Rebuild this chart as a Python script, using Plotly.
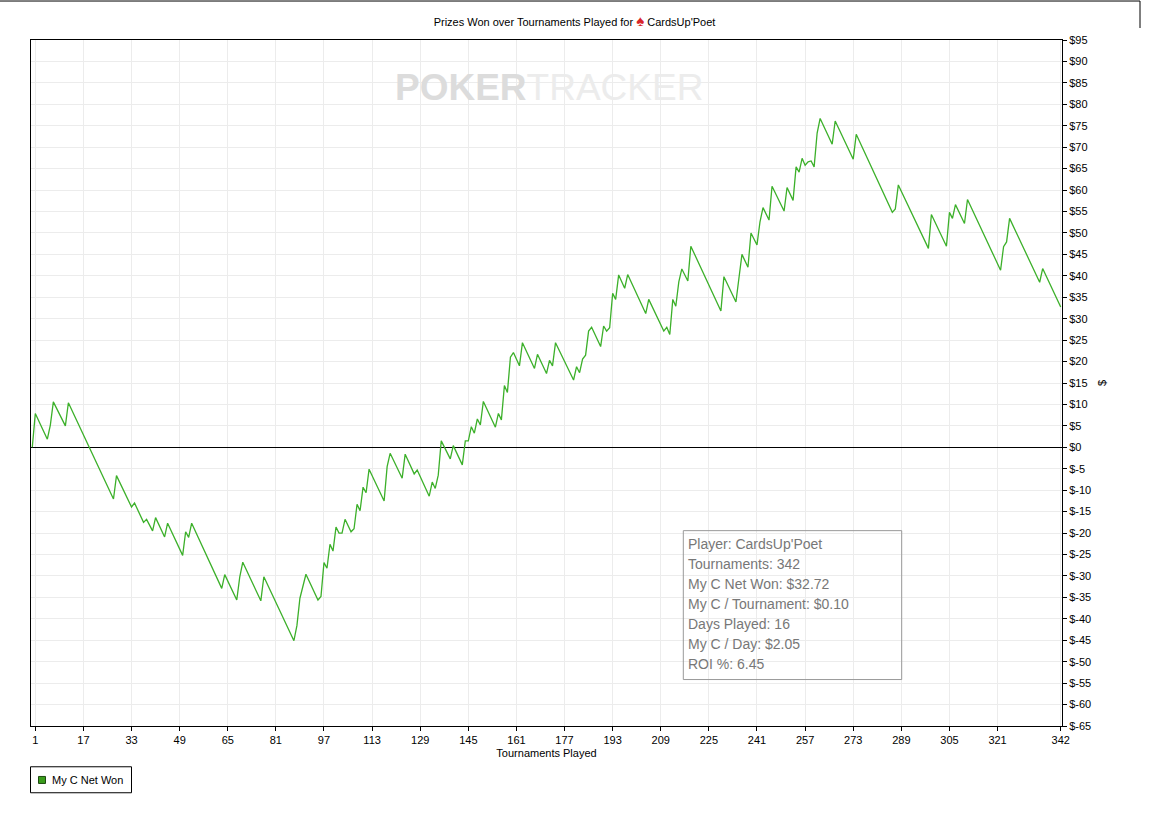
import plotly.graph_objects as go

# cumulative net won ($) at each turning point of the graph
tourney = [0, 1, 5, 6, 7, 11, 12, 27, 28, 33, 34, 37, 38, 40, 41, 44, 45, 50, 51, 52,
           53, 63, 64, 68, 69, 70, 76, 77, 87, 88, 89, 90, 91, 95, 96, 97, 98, 99, 100, 101,
           102, 103, 104, 106, 107, 108, 109, 110, 111, 112, 117, 118, 119, 123, 124, 127, 128, 132, 133, 134,
           135, 136, 139, 140, 143, 144, 145, 146, 147, 148, 149, 150, 154, 155, 156, 157, 158, 159, 160, 162,
           163, 167, 168, 171, 172, 173, 174, 180, 181, 182, 183, 184, 185, 186, 189, 190, 191, 192, 193, 194,
           195, 197, 198, 204, 205, 210, 211, 212, 213, 214, 215, 216, 218, 219, 229, 230, 234, 235, 236, 238,
           239, 241, 242, 243, 245, 246, 250, 251, 253, 254, 255, 256, 257, 258, 259, 260, 261, 262, 266, 267,
           273, 274, 286, 287, 288, 298, 299, 304, 305, 306, 307, 310, 311, 322, 323, 324, 325, 335, 336, 342]
net_won = [0, 7.9, 1.9, 5.2, 10.6, 5.0, 10.4, -12.05, -6.6, -13.9, -13.0, -17.5, -16.8, -19.5, -16.4, -20.9, -17.7, -25.2, -19.7, -21.0,
           -17.7, -32.9, -29.7, -35.6, -30.2, -26.8, -35.8, -30.2, -45.1, -41.6, -35.2, -32.5, -29.6, -35.6, -34.8, -26.9, -28.2, -22.6, -24.2, -18.6,
           -20.0, -20.0, -16.8, -19.7, -19.0, -13.3, -14.8, -9.3, -10.6, -5.1, -12.5, -4.5, -1.4, -7.2, -1.6, -6.2, -5.3, -11.4, -8.1, -9.6,
           -6.5, 1.5, -2.7, 0.4, -4.1, 1.5, 1.5, 4.8, 3.3, 6.6, 5.2, 10.7, 4.7, 7.9, 6.4, 14.4, 12.8, 21.0, 22.1, 19.0,
           24.4, 18.4, 21.7, 17.2, 20.3, 19.0, 24.4, 15.7, 18.8, 17.4, 20.6, 21.5, 27.1, 28.0, 23.5, 28.3, 27.1, 27.9, 35.9, 34.5,
           40.2, 37.1, 40.3, 31.2, 34.5, 27.1, 28.0, 26.3, 34.5, 32.9, 38.6, 41.6, 38.8, 46.9, 31.8, 39.8, 33.9, 39.5, 45.0, 42.0,
           50.0, 47.2, 52.6, 55.9, 53.0, 60.9, 55.1, 60.6, 57.6, 65.4, 64.2, 67.4, 65.8, 66.6, 66.8, 65.4, 73.3, 76.7, 70.7, 76.1,
           67.2, 73.0, 54.8, 55.6, 61.2, 46.4, 54.3, 46.9, 54.8, 53.4, 56.6, 52.2, 57.8, 41.3, 46.8, 47.9, 53.4, 38.5, 41.7, 32.72]

x_ticks = [1, 17, 33, 49, 65, 81, 97, 113, 129, 145, 161, 177, 193, 209, 225, 241, 257, 273, 289, 305, 321, 342]
y_ticks = list(range(-65, 100, 5))
y_tick_text = ["$" + str(v) for v in y_ticks]

info_lines = ["Player: CardsUp'Poet", "Tournaments: 342", "My C Net Won: $32.72",
              "My C / Tournament: $0.10", "Days Played: 16", "My C / Day: $2.05", "ROI %: 6.45"]

FONT = "Liberation Sans, Arial, sans-serif"
W, H = 1149, 815
L, R, T, B = 31, 1062, 40, 726.5   # plot area in pixels

def px_x(px):
    return (px - L) / (R - L)

def px_y(py):
    return (B - py) / (B - T)

fig = go.Figure()
fig.add_trace(go.Scatter(x=tourney, y=net_won, mode="lines",
                         line=dict(color="#3cb02a", width=1.3), showlegend=False))

shapes = []
annotations = []

# watermark
annotations.append(dict(
    x=px_x(549), y=px_y(88), xref="paper", yref="paper", showarrow=False,
    xanchor="center", yanchor="middle",
    text="<b><span style='color:#dcdcdc'>POKER</span></b><span style='color:#ececec'>TRACKER</span>",
    font=dict(family="Liberation Sans Narrow, Liberation Sans, Arial", size=37)))

# stats box
shapes.append(dict(type="rect", xref="paper", yref="paper",
                   x0=px_x(683.3), x1=px_x(901.7), y0=px_y(680), y1=px_y(531),
                   line=dict(color="#999999", width=1)))
for i, line in enumerate(info_lines):
    annotations.append(dict(x=px_x(685.5), y=px_y(544.5 + 20 * i), xref="paper", yref="paper",
                            xanchor="left", yanchor="middle", showarrow=False, text=line,
                            font=dict(family=FONT, size=14, color="#777777")))

# legend box (drawn by hand, square swatch)
shapes.append(dict(type="rect", xref="paper", yref="paper",
                   x0=px_x(30.5), x1=px_x(131.5), y0=px_y(793.3), y1=px_y(767.3),
                   line=dict(color="black", width=1)))
shapes.append(dict(type="rect", xref="paper", yref="paper",
                   x0=px_x(38.5), x1=px_x(45.5), y0=px_y(784), y1=px_y(777),
                   fillcolor="#3a9c1c", line=dict(color="#1d4a10", width=1)))
annotations.append(dict(x=px_x(50), y=px_y(780.5), xref="paper", yref="paper",
                        xanchor="left", yanchor="middle", showarrow=False, text="My C Net Won",
                        font=dict(family=FONT, size=11, color="black")))

# frame lines at the top of the page
shapes.append(dict(type="line", xref="paper", yref="paper",
                   x0=px_x(0), x1=px_x(1140), y0=px_y(1), y1=px_y(1),
                   line=dict(color="black", width=1)))
shapes.append(dict(type="line", xref="paper", yref="paper",
                   x0=px_x(1140), x1=px_x(1140), y0=px_y(1), y1=px_y(28),
                   line=dict(color="black", width=1)))

fig.update_layout(
    width=W, height=H,
    margin=dict(l=L, r=W - R, t=T, b=H - B),
    paper_bgcolor="white", plot_bgcolor="white",
    font=dict(family=FONT, size=11, color="black"),
    title=dict(text="Prizes Won over Tournaments Played for "
                    "<span style='color:#d8262a;font-size:15px'>♠</span> CardsUp'Poet",
               x=0.5, xanchor="center", y=1 - 22.5 / H, yanchor="middle",
               font=dict(family=FONT, size=11, color="black")),
    xaxis=dict(range=[-0.43, 342.43], tickvals=x_ticks, ticks="outside", ticklen=4,
               tickcolor="black", showline=True, linecolor="black", linewidth=1, mirror=True,
               showgrid=True, gridcolor="#ececec", gridwidth=1, zeroline=False,
               title=dict(text="Tournaments Played", standoff=4, font=dict(size=11))),
    yaxis=dict(range=[-65, 95], side="right", tickvals=y_ticks, ticktext=y_tick_text,
               ticks="outside", ticklen=4, tickcolor="black", showline=True, linecolor="black",
               linewidth=1, mirror=True, showgrid=True, gridcolor="#ececec", gridwidth=1,
               zeroline=True, zerolinecolor="black", zerolinewidth=1,
               title=dict(text="$", standoff=8, font=dict(size=11))),
    shapes=shapes,
    annotations=annotations,
    showlegend=False,
)

# page body has a default 8px margin; drop it so the figure sits at the top-left corner
fig.write_html("out.html", config={"displayModeBar": False},
               post_script="document.body.style.margin='0px';")
